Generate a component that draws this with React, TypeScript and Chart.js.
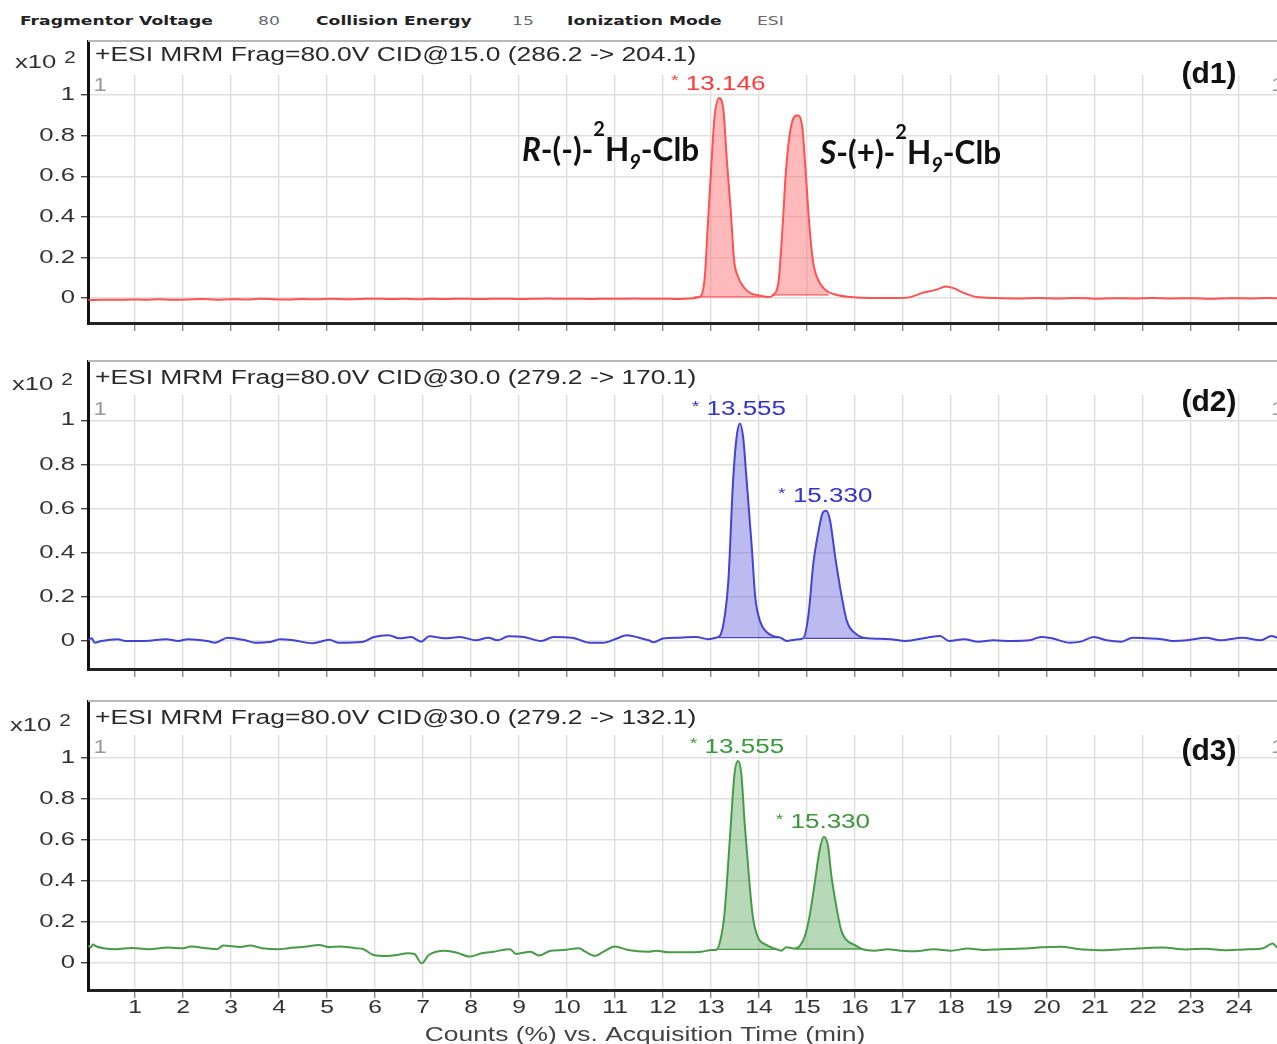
import React, { useEffect, useRef } from 'react';
import { Chart, registerables } from 'chart.js';

Chart.register(...registerables);

// ---------------- DATA ----------------
const X_TICKS = [1, 2, 3, 4, 5, 6, 7, 8, 9, 10, 11, 12, 13, 14, 15, 16, 17, 18, 19, 20, 21, 22, 23, 24];
const X_TICK_LABELS = X_TICKS.map((v) => String(v));
const Y_TICKS = [0, 0.2, 0.4, 0.6, 0.8, 1];
const Y_TICK_LABELS = ['0', '0.2', '0.4', '0.6', '0.8', '1'];
const X_TITLE = 'Counts (%) vs. Acquisition Time (min)';

const HEADER_LABELS = ['Fragmentor Voltage', 'Collision Energy', 'Ionization Mode'];
const HEADER_VALUES = ['80', '15', 'ESI'];

const PANEL_TITLES = [
  '+ESI MRM Frag=80.0V CID@15.0 (286.2 -> 204.1)',
  '+ESI MRM Frag=80.0V CID@30.0 (279.2 -> 170.1)',
  '+ESI MRM Frag=80.0V CID@30.0 (279.2 -> 132.1)',
];
const PANEL_TAGS = ['(d1)', '(d2)', '(d3)'];

// d1 (red) : retention time (min) vs counts (x10^2)
const RED_TIME = [
  0.03, 0.3, 0.6, 0.9, 1.2, 1.5, 1.8, 2.1, 2.4, 2.7, 3.0, 3.3, 3.6, 3.9, 4.2, 4.5, 4.8, 5.1, 5.4, 5.7,
  6.0, 6.3, 6.6, 6.9, 7.2, 7.5, 7.8, 8.1, 8.4, 8.7, 9.0, 9.3, 9.6, 9.9, 10.2, 10.5, 10.8, 11.1, 11.4,
  11.7, 12.0, 12.3, 12.55, 12.78, 12.87, 12.93, 13.0, 13.07, 13.17, 13.26, 13.33, 13.41, 13.48, 13.56,
  13.67, 13.82, 14.04, 14.19, 14.3, 14.41, 14.49, 14.56, 14.66, 14.8, 14.9, 14.97, 15.04, 15.12, 15.23,
  15.38, 15.6, 15.9, 16.35, 16.7, 17.09, 17.39, 17.68, 17.9, 18.05, 18.28, 18.53, 18.94, 19.4, 19.8,
  20.2, 20.6, 21.0, 21.4, 21.8, 22.2, 22.6, 23.0, 23.4, 23.8, 24.2, 24.6, 24.79,
];
const RED_COUNTS = [
  -0.01, -0.008, -0.009, -0.007, -0.008, -0.006, -0.008, -0.007, -0.005, -0.008, -0.006, -0.007, -0.004,
  -0.006, -0.007, -0.005, -0.006, -0.004, -0.006, -0.005, -0.003, -0.005, -0.004, -0.006, -0.004, -0.005,
  -0.003, -0.005, -0.004, -0.003, -0.005, -0.004, -0.002, -0.004, -0.003, -0.005, -0.003, -0.004, -0.002,
  -0.004, -0.003, -0.005, -0.002, 0.008, 0.105, 0.35, 0.63, 0.886, 0.985, 0.92, 0.675, 0.43, 0.187, 0.106,
  0.057, 0.024, 0.011, 0.005, 0.016, 0.09, 0.35, 0.626, 0.837, 0.9, 0.84, 0.626, 0.382, 0.187, 0.089,
  0.04, 0.016, 0.005, 0.0, 0.0, 0.002, 0.024, 0.04, 0.057, 0.049, 0.024, 0.005, 0.0, -0.002, 0.0,
  -0.002, 0.0, -0.003, -0.001, -0.002, 0.0, -0.002, -0.001, -0.003, -0.001, -0.002, 0.0, -0.001,
];
const RED_FILL_START = [12.65, 14.27];
const RED_FILL_END = [14.05, 15.45];
const RED_FILL_BASE = [0.006, 0.016];
const RED_PEAK_TIMES = [13.17];
const RED_PEAK_LABELS = ['13.146'];

// d2 (blue)
const BLUE_TIME = [
  0.03, 0.1, 0.16, 0.3, 0.64, 0.8, 1.2, 1.65, 1.9, 2.1, 2.5, 2.67, 2.93, 3.3, 3.5, 3.8, 4.03, 4.3, 4.7,
  5.05, 5.25, 5.73, 5.98, 6.28, 6.5, 6.75, 6.96, 7.13, 7.45, 7.77, 8.1, 8.36, 8.55, 8.78, 9.1, 9.46, 9.72,
  10.1, 10.48, 10.75, 11.0, 11.25, 11.5, 11.7, 11.8, 12.0, 12.35, 12.69, 12.94, 13.1, 13.19, 13.29, 13.36,
  13.46, 13.53, 13.6, 13.67, 13.74, 13.85, 13.92, 14.02, 14.16, 14.3, 14.44, 14.58, 14.75, 14.92, 15.03,
  15.13, 15.24, 15.33, 15.4, 15.48, 15.58, 15.69, 15.83, 16.03, 16.24, 16.5, 16.74, 17.05, 17.5, 17.77,
  17.96, 18.27, 18.57, 18.88, 19.26, 19.64, 19.87, 20.1, 20.48, 20.7, 20.98, 21.24, 21.55, 21.78, 22.08,
  22.39, 22.62, 22.92, 23.31, 23.61, 24.07, 24.45, 24.68, 24.79,
];
const BLUE_COUNTS = [
  0.005, 0.012, -0.008, 0.0, 0.008, 0.0, 0.0, 0.008, 0.0, 0.008, 0.0, -0.008, 0.015, 0.003, -0.008,
  -0.005, 0.008, 0.003, -0.01, 0.005, -0.008, -0.005, 0.018, 0.026, 0.012, 0.018, -0.003, 0.021, 0.012,
  0.018, 0.003, 0.015, 0.003, 0.021, 0.018, 0.0, 0.018, 0.015, -0.008, -0.008, 0.008, 0.026, 0.015, 0.003,
  -0.006, 0.011, 0.015, 0.018, 0.008, 0.015, 0.025, 0.12, 0.27, 0.73, 0.92, 0.985, 0.92, 0.73, 0.42, 0.2,
  0.09, 0.04, 0.022, 0.015, 0.0, 0.006, 0.012, 0.12, 0.35, 0.5, 0.583, 0.59, 0.545, 0.39, 0.24, 0.09, 0.03,
  0.012, 0.01, 0.008, 0.0, 0.015, 0.022, 0.0, 0.008, -0.003, 0.003, 0.0, 0.003, 0.018, 0.012, -0.008,
  -0.003, 0.018, 0.003, -0.003, 0.015, 0.012, 0.008, 0.0, 0.003, 0.015, 0.003, 0.015, 0.003, 0.022, 0.015,
];
const BLUE_FILL_START = [13.15, 14.95];
const BLUE_FILL_END = [14.41, 16.28];
const BLUE_FILL_BASE = [0.015, 0.012];
const BLUE_PEAK_TIMES = [13.6, 15.4];
const BLUE_PEAK_LABELS = ['13.555', '15.330'];

// d3 (green)
const GREEN_TIME = [
  0.03, 0.08, 0.12, 0.2, 0.34, 0.6, 0.93, 1.27, 1.69, 2.0, 2.16, 2.54, 2.71, 2.84, 3.2, 3.39, 3.65, 3.98,
  4.2, 4.58, 4.83, 5.05, 5.25, 5.59, 5.76, 5.97, 6.27, 6.45, 6.69, 6.82, 6.97, 7.12, 7.46, 7.71, 7.97,
  8.22, 8.47, 8.81, 8.94, 9.24, 9.41, 9.66, 9.92, 10.25, 10.38, 10.59, 10.76, 11.0, 11.27, 11.69, 11.86,
  12.11, 12.46, 12.8, 13.02, 13.11, 13.21, 13.28, 13.39, 13.49, 13.56, 13.63, 13.7, 13.8, 13.87, 13.97,
  14.15, 14.36, 14.46, 14.57, 14.74, 14.85, 14.95, 15.05, 15.16, 15.26, 15.35, 15.44, 15.5, 15.61, 15.71,
  15.82, 15.99, 16.16, 16.4, 16.68, 16.96, 17.24, 17.65, 18.0, 18.35, 18.69, 19.04, 19.5, 19.9, 20.3,
  20.6, 21.1, 21.5, 22.0, 22.4, 22.9, 23.3, 23.7, 24.1, 24.5, 24.7, 24.79,
];
const GREEN_COUNTS = [
  0.085, 0.075, 0.09, 0.08, 0.072, 0.067, 0.073, 0.067, 0.075, 0.072, 0.08, 0.07, 0.067, 0.085, 0.078,
  0.085, 0.072, 0.067, 0.072, 0.08, 0.088, 0.077, 0.08, 0.072, 0.067, 0.039, 0.034, 0.039, 0.047, 0.044,
  -0.002, 0.039, 0.06, 0.05, 0.031, 0.047, 0.055, 0.067, 0.044, 0.055, 0.036, 0.06, 0.063, 0.072, 0.055,
  0.035, 0.055, 0.08, 0.063, 0.055, 0.06, 0.052, 0.052, 0.055, 0.063, 0.063, 0.128, 0.24, 0.6, 0.925,
  0.985, 0.925, 0.68, 0.39, 0.226, 0.128, 0.088, 0.067, 0.06, 0.076, 0.07, 0.083, 0.128, 0.226, 0.39,
  0.55, 0.616, 0.567, 0.437, 0.275, 0.16, 0.112, 0.088, 0.067, 0.06, 0.067, 0.06, 0.057, 0.067, 0.06,
  0.07, 0.063, 0.067, 0.07, 0.077, 0.079, 0.069, 0.062, 0.066, 0.072, 0.075, 0.066, 0.069, 0.062, 0.066,
  0.072, 0.095, 0.075,
];
const GREEN_FILL_START = [13.08, 14.75];
const GREEN_FILL_END = [14.42, 16.15];
const GREEN_FILL_BASE = [0.066, 0.068];
const GREEN_PEAK_TIMES = [13.56, 15.35];
const GREEN_PEAK_LABELS = ['13.555', '15.330'];

const ANNOT_LEAD = ['R', 'S'];
const ANNOT_MID = ['-(-)-', '-(+)-'];

// ---------------- LAYOUT / STYLE ----------------
const W = 1277;
const X_MIN = 0.02;
const X_MAX = 24.79;
const BAND = 35;
const FONT = '"Liberation Sans", Arial, sans-serif';
const SX = 1.32;

const LAYOUT = [
  { top: 40, height: 300, xh: 17, min: -0.123, max: 1.271, titleY: 15, oneY: 46, x10Y: 23, x10X: 15, tagY: 35 },
  { top: 360, height: 326, xh: 17, min: -0.127, max: 1.273, titleY: 18, oneY: 50, x10Y: 25, x10X: 12, tagY: 43 },
  { top: 700, height: 344, xh: 54, min: -0.132, max: 1.283, titleY: 18, oneY: 48, x10Y: 26, x10X: 10, tagY: 52 },
];

const SERIES = [
  {
    time: RED_TIME, counts: RED_COUNTS, fs: RED_FILL_START, fe: RED_FILL_END, fb: RED_FILL_BASE,
    pt: RED_PEAK_TIMES, pl: RED_PEAK_LABELS,
    line: '#ff5252', fill: 'rgba(255,105,105,0.45)', label: '#ff3a3a',
  },
  {
    time: BLUE_TIME, counts: BLUE_COUNTS, fs: BLUE_FILL_START, fe: BLUE_FILL_END, fb: BLUE_FILL_BASE,
    pt: BLUE_PEAK_TIMES, pl: BLUE_PEAK_LABELS,
    line: '#4343d4', fill: 'rgba(85,85,215,0.4)', label: '#3434cc',
  },
  {
    time: GREEN_TIME, counts: GREEN_COUNTS, fs: GREEN_FILL_START, fe: GREEN_FILL_END, fb: GREEN_FILL_BASE,
    pt: GREEN_PEAK_TIMES, pl: GREEN_PEAK_LABELS,
    line: '#479a47', fill: 'rgba(85,165,85,0.42)', label: '#3d983d',
  },
];

// annotation anchor points (time, value) for R / S labels in panel d1
const ANNOT_POS = [
  { t: 9.06, v: 0.675 },
  { t: 15.27, v: 0.66 },
];

function txt(
  ctx: CanvasRenderingContext2D, s: string, x: number, y: number, font: string, color: string,
  align: 'left' | 'center' | 'right', sx = 1, baseline: CanvasTextBaseline = 'middle'
) {
  ctx.save();
  ctx.font = font;
  ctx.fillStyle = color;
  ctx.textBaseline = baseline;
  ctx.textAlign = 'left';
  const w = ctx.measureText(s).width * sx;
  const x0 = align === 'left' ? x : align === 'center' ? x - w / 2 : x - w;
  ctx.translate(x0, y);
  ctx.scale(sx, 1);
  ctx.fillText(s, 0, 0);
  ctx.restore();
  return w;
}

function drawChem(ctx: CanvasRenderingContext2D, x: number, y: number, lead: string, mid: string) {
  const big = 31.5;
  const small = 20;
  let cx = x;
  ctx.save();
  ctx.fillStyle = '#111';
  ctx.textBaseline = 'alphabetic';
  ctx.textAlign = 'left';
  const seg = (s: string, font: string, dy = 0) => {
    ctx.font = font;
    ctx.fillText(s, cx, y + dy);
    cx += ctx.measureText(s).width;
  };
  seg(lead, `italic bold ${big}px Lato`);
  seg(mid, `bold ${big}px Lato`);
  seg('2', `bold ${small}px Lato`, -25);
  seg('H', `bold ${big}px Lato`);
  seg('9', `italic bold ${small}px Lato`, 8);
  seg('-Clb', `bold ${big}px Lato`);
  ctx.restore();
}

function makeConfig(idx: number): any {
  const L = LAYOUT[idx];
  const S = SERIES[idx];
  const pts = S.time.map((t, i) => ({ x: t, y: S.counts[i] }));
  const datasets: any[] = [
    {
      data: pts, borderColor: S.line, borderWidth: 2, pointRadius: 0, fill: false,
      cubicInterpolationMode: 'monotone',
    },
  ];
  S.fs.forEach((s, i) => {
    const e = S.fe[i];
    const b = S.fb[i];
    const seg = pts.filter((p) => p.x > s && p.x < e);
    datasets.push({
      data: [{ x: s, y: b }, ...seg, { x: e, y: b }],
      borderColor: 'rgba(0,0,0,0)', borderWidth: 0, pointRadius: 0,
      backgroundColor: S.fill, fill: { value: b }, cubicInterpolationMode: 'monotone',
    });
    datasets.push({
      data: [{ x: s, y: b }, { x: e, y: b }],
      borderColor: S.line, borderWidth: 1.3, pointRadius: 0, fill: false,
    });
  });

  const isLast = idx === LAYOUT.length - 1;

  const plugin = {
    id: 'panelDecor' + idx,
    beforeDatasetsDraw(chart: any) {
      const { ctx, chartArea: a } = chart;
      ctx.save();
      ctx.fillStyle = '#fff';
      ctx.fillRect(a.left + 2, a.top, a.right - a.left, BAND);
      ctx.strokeStyle = '#b8b8b8';
      ctx.lineWidth = 2;
      ctx.beginPath();
      ctx.moveTo(a.left, a.top + 1);
      ctx.lineTo(a.right, a.top + 1);
      ctx.stroke();
      ctx.restore();
    },
    afterDatasetsDraw(chart: any) {
      const { ctx, chartArea: a } = chart;
      const xs = chart.scales.x;
      const ys = chart.scales.y;
      // panel title
      txt(ctx, PANEL_TITLES[idx], a.left + 7, a.top + L.titleY, `20px ${FONT}`, '#2a2a2a', 'left', SX);
      // "1" markers
      txt(ctx, '1', a.left + 12, a.top + L.oneY, `18px ${FONT}`, '#9a9a9a', 'center', SX);
      txt(ctx, '1', a.right - 6, a.top + L.oneY, `18px ${FONT}`, '#9a9a9a', 'left', SX);
      // y tick labels
      Y_TICKS.forEach((v, i) => {
        txt(ctx, Y_TICK_LABELS[i], a.left - 13, ys.getPixelForValue(v), `19px ${FONT}`, '#333', 'right', 1.35);
      });
      // x10^2
      txt(ctx, 'x10', L.x10X, a.top + L.x10Y, `19px ${FONT}`, '#333', 'left', 1.35);
      txt(ctx, '2', L.x10X + 55, a.top + L.x10Y - 4, `16px ${FONT}`, '#333', 'center', 1.3);
      // panel tag
      txt(ctx, PANEL_TAGS[idx], 1209, a.top + L.tagY, `bold 30px ${FONT}`, '#111', 'center', 1);
      // peak labels
      S.pt.forEach((t, i) => {
        let best = -Infinity;
        let bt = t;
        S.time.forEach((tt, k) => {
          if (Math.abs(tt - t) < 0.2 && S.counts[k] > best) {
            best = S.counts[k];
            bt = tt;
          }
        });
        const px = xs.getPixelForValue(bt) - 1;
        const py = ys.getPixelForValue(best) - 14;
        ctx.save();
        ctx.font = `20px ${FONT}`;
        const wNum = ctx.measureText(' ' + S.pl[i]).width * 1.3;
        ctx.font = `15px ${FONT}`;
        const wStar = ctx.measureText('*').width * 1.3;
        ctx.restore();
        const x0 = px - (wNum + wStar) / 2;
        txt(ctx, '*', x0, py - 3, `15px ${FONT}`, S.label, 'left', 1.3);
        txt(ctx, ' ' + S.pl[i], x0 + wStar, py, `20px ${FONT}`, S.label, 'left', 1.3);
      });
      // R / S annotations in first panel
      if (idx === 0) {
        ANNOT_LEAD.forEach((lead, i) => {
          const p = ANNOT_POS[i];
          drawChem(ctx, xs.getPixelForValue(p.t), ys.getPixelForValue(p.v), lead, ANNOT_MID[i]);
        });
      }
      // x tick labels + title on last panel
      if (isLast) {
        X_TICKS.forEach((v, i) => {
          txt(ctx, X_TICK_LABELS[i], xs.getPixelForValue(v), a.bottom + 18, `19px ${FONT}`, '#333', 'center', 1.3);
        });
        txt(ctx, X_TITLE, 645, a.bottom + 45, `20px ${FONT}`, '#444', 'center', SX);
      }
    },
  };

  return {
    type: 'line',
    data: { datasets },
    options: {
      animation: false,
      responsive: false,
      maintainAspectRatio: false,
      devicePixelRatio: 1,
      layout: { padding: 0 },
      plugins: { legend: { display: false }, tooltip: { enabled: false }, title: { display: false } },
      scales: {
        x: {
          type: 'linear',
          min: X_MIN,
          max: X_MAX,
          afterBuildTicks: (s: any) => {
            s.ticks = X_TICKS.map((v) => ({ value: v }));
          },
          afterFit: (s: any) => {
            s.height = L.xh;
          },
          ticks: { display: false },
          grid: { color: '#e0e0e0', lineWidth: 1.4, drawTicks: true, tickLength: 8, tickColor: '#8a8a8a' },
          border: { display: true, color: '#222', width: 3 },
        },
        y: {
          type: 'linear',
          min: L.min,
          max: L.max,
          afterBuildTicks: (s: any) => {
            s.ticks = Y_TICKS.map((v) => ({ value: v }));
          },
          afterFit: (s: any) => {
            s.width = 88;
          },
          ticks: { display: false },
          grid: { color: '#e0e0e0', lineWidth: 1.4, drawTicks: true, tickLength: 7, tickColor: '#444' },
          border: { display: true, color: '#111', width: 3 },
        },
      },
    },
    plugins: [plugin],
  };
}

function Panel({ idx }: { idx: number }) {
  const ref = useRef<HTMLCanvasElement>(null);
  useEffect(() => {
    const chart = new Chart(ref.current as HTMLCanvasElement, makeConfig(idx));
    return () => chart.destroy();
  }, [idx]);
  const L = LAYOUT[idx];
  return (
    <canvas
      ref={ref}
      width={W}
      height={L.height}
      style={{ position: 'absolute', left: 0, top: L.top, width: W, height: L.height, display: 'block' }}
    />
  );
}

const HEADER_LABEL_X = [20, 316, 567];
const HEADER_VALUE_X = [258, 512, 757];

export default function App() {
  const span = (text: string, x: number, bold: boolean, color: string) => (
    <span
      key={text + x}
      style={{
        position: 'absolute',
        left: x,
        top: 12,
        fontFamily: '"DejaVu Sans", Verdana, sans-serif',
        fontWeight: bold ? 700 : 400,
        fontSize: 13,
        lineHeight: '18px',
        color,
        whiteSpace: 'nowrap',
        transform: 'scaleX(1.32)',
        transformOrigin: 'left center',
      }}
    >
      {text}
    </span>
  );
  return (
    <div style={{ position: 'absolute', left: 0, top: 0, width: W, height: 1044, background: '#fff', overflow: 'hidden' }}>
      {HEADER_LABELS.map((t, i) => span(t, HEADER_LABEL_X[i], true, '#222'))}
      {HEADER_VALUES.map((t, i) => span(t, HEADER_VALUE_X[i], false, '#6a6a6a'))}
      {LAYOUT.map((_, i) => (
        <Panel key={i} idx={i} />
      ))}
    </div>
  );
}
